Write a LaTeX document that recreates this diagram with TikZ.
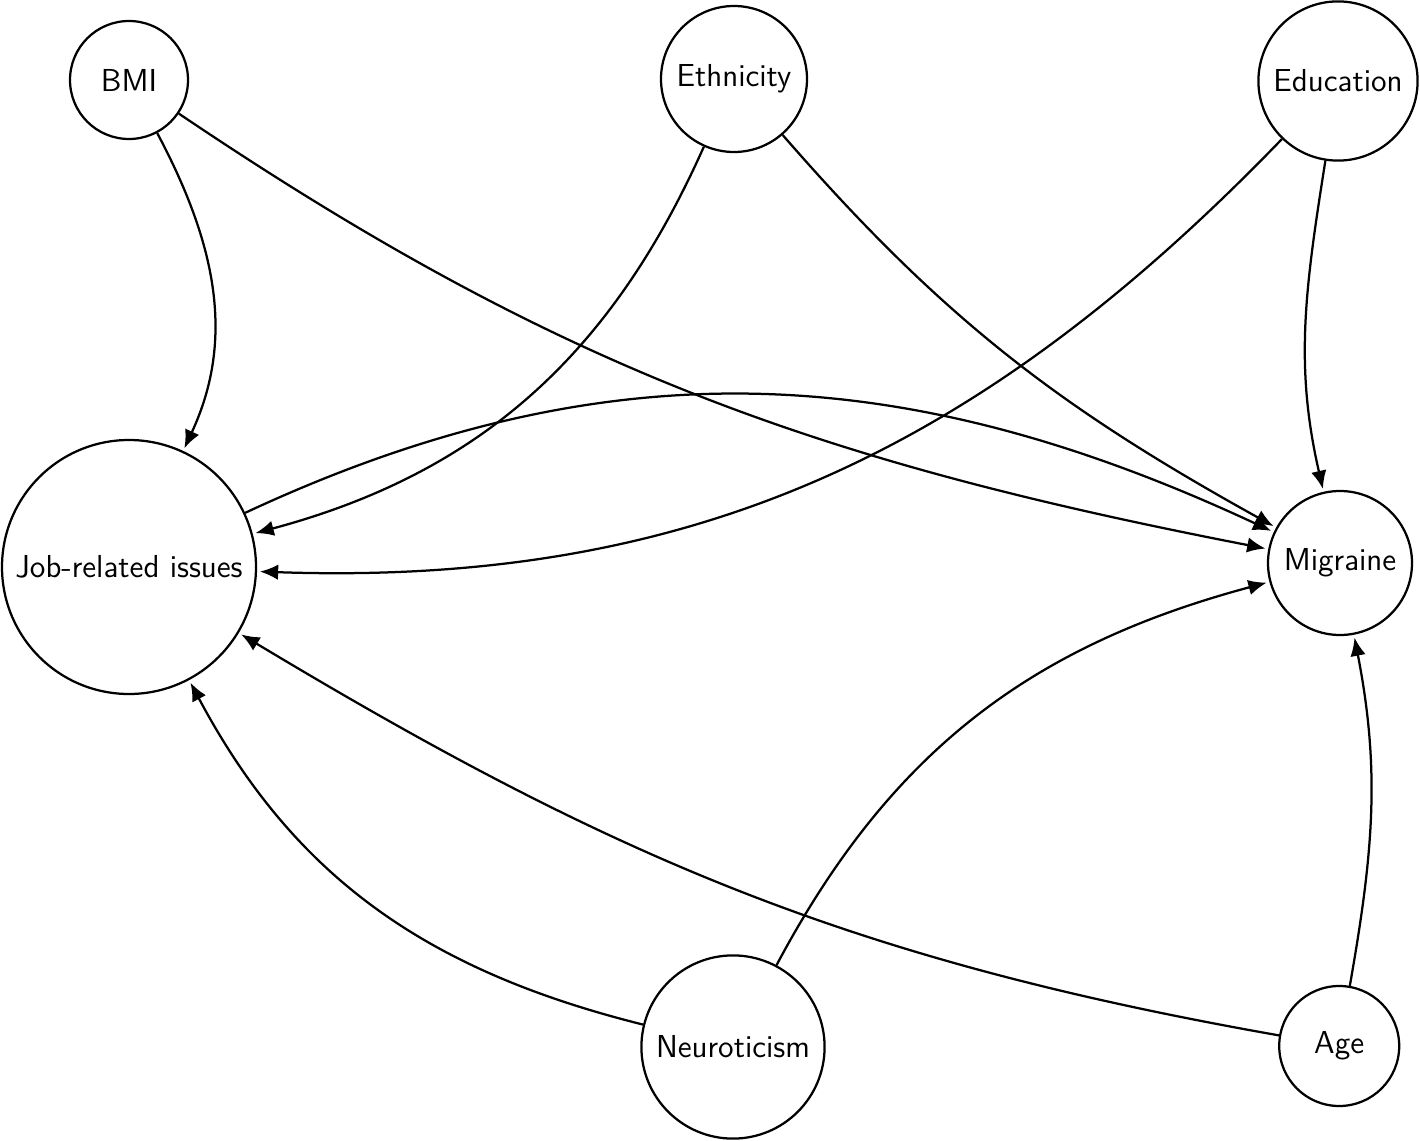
\documentclass[tikz,border=0pt]{standalone}
\usepackage{tikz}
\usetikzlibrary{positioning}
\usetikzlibrary{arrows,arrows.meta}

\begin{document}
\begin{tikzpicture}[
    var/.style={circle, draw, line width=0.8pt, font=\sffamily\fontsize{11.3}{13}\selectfont, inner sep=1pt},
    edge/.style={line width=0.8pt, -{Latex[length=6.5pt,width=5.5pt]}, shorten >=1pt}]
    \useasboundingbox (0,0) rectangle (17.75,-14.2625);
    \foreach \nm/\pos/\sz/\txt in {bmi/{1.6125,-1.0}/1.475/BMI,
        eth/{9.175,-0.9875}/1.825/Ethnicity,
        edu/{16.725,-1.0125}/1.99/Education,
        job/{1.6125,-7.0875}/3.175/Job-related issues,
        mig/{16.75,-7.0375}/1.8/Migraine,
        neu/{9.1625,-13.0875}/2.29/Neuroticism,
        age/{16.74,-13.075}/1.5/Age}
      \node [var, minimum size=\sz cm] (\nm) at (\pos) {\txt};

    \foreach \from/\to/\o/\i in {bmi/job/-62/65, bmi/mig/-34/169,
        eth/job/-114/15, eth/mig/-49/151,
        edu/job/-134/-2, edu/mig/-99/103,
        job/mig/25/155,
        neu/job/166/-62, neu/mig/62/-165,
        age/job/170/-31, age/mig/80/-79}
      \draw [edge] (\from) to[out=\o, in=\i] (\to);
\end{tikzpicture}
\end{document}
